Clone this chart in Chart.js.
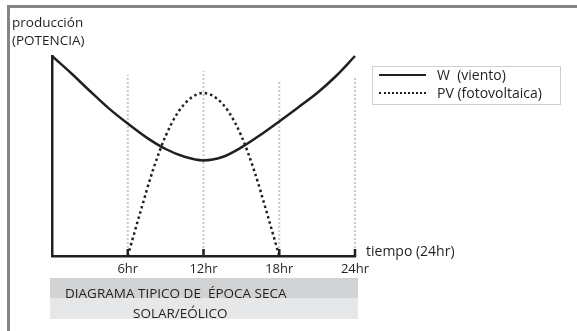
<!DOCTYPE html>
<html>
<head>
<meta charset="utf-8">
<script src="https://cdn.jsdelivr.net/npm/chart.js@4/dist/chart.umd.min.js"></script>
<style>
  html, body { margin: 0; padding: 0; background: #fff; }
  body { width: 577px; height: 331px; position: relative; overflow: hidden; font-family: "Open Sans", sans-serif; color: #231f20; }
  #frame { position: absolute; left: 7px; top: 5px; width: 620px; height: 400px; border-left: 3px solid #858585; border-top: 3px solid #858585; }
  #chart { position: absolute; left: 0; top: 0; }
  .txt { position: absolute; white-space: nowrap; font-size: 13px; line-height: 15px; }
  #legend { position: absolute; left: 372px; top: 66px; width: 187px; height: 37px; border: 1.5px solid #cfcfcf; }
  .lg-row { position: absolute; left: 6px; height: 16px; font-size: 14px; line-height: 16px; white-space: nowrap; }
  .lg-solid { display: inline-block; width: 47px; border-top: 2px solid #231f20; vertical-align: middle; margin-right: 11px; position: relative; top: -1px; }
  .lg-dot { display: inline-block; width: 47px; border-top: 2.5px dotted #231f20; vertical-align: middle; margin-right: 11px; position: relative; top: -1px; }
  #caption { position: absolute; left: 50px; top: 278px; width: 308px; height: 41px; }
  #cap1 { position: absolute; left: 0; top: 0; width: 100%; height: 20px; background: #d1d2d4; }
  #cap2 { position: absolute; left: 0; top: 20px; width: 100%; height: 21px; background: #e6e7e8; }
</style>
</head>
<body>
<div id="frame"></div>
<canvas id="chart" width="577" height="331"></canvas>

<div class="txt" style="left:12px; top:15px; font-size:13.5px;">producción</div>
<div class="txt" style="left:12px; top:33px; font-size:13.5px;">(POTENCIA)</div>
<div class="txt" style="left:366px; top:243px; font-size:14px; line-height:16px;">tiempo (24hr)</div>

<div id="legend">
  <div class="lg-row" style="top:0px;"><span class="lg-solid"></span>W&nbsp; (viento)</div>
  <div class="lg-row" style="top:18px;"><span class="lg-dot"></span>PV (fotovoltaica)</div>
</div>

<div id="caption">
  <div id="cap1"></div>
  <div id="cap2"></div>
  <div class="txt" style="left:15px; top:8px; font-size:13.5px;">DIAGRAMA TIPICO DE&nbsp; ÉPOCA SECA</div>
  <div class="txt" style="left:83px; top:28px; font-size:13.5px;">SOLAR/EÓLICO</div>
</div>

<script>
// hours of the day
const windHours  = [0, 1.5, 3, 4.5, 6, 7.5, 9, 10.5, 12, 13.5, 15, 16.5, 18, 19.5, 21, 22.5, 24];
const windValues = [100, 91.5, 82.5, 73.8, 66.2, 59.2, 53.5, 49.6, 47.8, 49.5, 54.3, 60.5, 67.3, 74.3, 81.5, 90, 100];

const pvHours  = [6, 7, 8, 9, 10, 11, 12, 13, 14, 15, 16, 17, 18];
const pvValues = [0, 22, 43, 60, 72, 79, 81.5, 79, 72, 60, 43, 22, 0];

const tickHours = [6, 12, 18, 24];
const gridTops  = [90.5, 92.5, 87, 89];

const INK = "#231f20";

const toPoints = (xs, ys) => xs.map((x, i) => ({ x, y: ys[i] }));

const axisMarks = {
  id: "axisMarks",
  beforeDatasetsDraw(chart){
    const { ctx, scales: { x, y } } = chart;
    ctx.save();
    ctx.strokeStyle = "#c9c9c9";
    ctx.lineWidth = 2;
    ctx.setLineDash([2, 2]);
    tickHours.forEach((h, i) => {
      const px = x.getPixelForValue(h);
      ctx.beginPath();
      ctx.moveTo(px, y.getPixelForValue(0));
      ctx.lineTo(px, y.getPixelForValue(gridTops[i]));
      ctx.stroke();
    });
    ctx.restore();
  },
  afterDraw(chart){
    const { ctx, scales: { x, y } } = chart;
    const base = y.getPixelForValue(0);
    ctx.save();
    ctx.strokeStyle = INK;
    ctx.lineWidth = 2.5;
    tickHours.forEach((h) => {
      const px = x.getPixelForValue(h);
      ctx.beginPath();
      ctx.moveTo(px, base + 1);
      ctx.lineTo(px, base - 7);
      ctx.stroke();
    });
    ctx.restore();
  }
};

new Chart(document.getElementById("chart"), {
  type: "line",
  data: {
    datasets: [
      {
        label: "W (viento)",
        data: toPoints(windHours, windValues),
        borderColor: INK,
        borderWidth: 2.5,
        pointRadius: 0,
        cubicInterpolationMode: "monotone",
        clip: 6
      },
      {
        label: "PV (fotovoltaica)",
        data: toPoints(pvHours, pvValues),
        borderColor: INK,
        borderWidth: 2.5,
        borderDash: [2.5, 3],
        pointRadius: 0,
        cubicInterpolationMode: "monotone",
        clip: 6
      }
    ]
  },
  plugins: [axisMarks],
  options: {
    responsive: false,
    animation: false,
    events: [],
    layout: { padding: { left: 52, right: 222, top: 56, bottom: 0 } },
    plugins: { legend: { display: false }, tooltip: { enabled: false } },
    scales: {
      x: {
        type: "linear",
        min: 0,
        max: 24,
        afterBuildTicks: (s) => { s.ticks = tickHours.map((v) => ({ value: v })); },
        afterFit: (s) => { s.height = 75; },
        grid: { display: false },
        border: { display: true, color: INK, width: 2.5 },
        ticks: {
          padding: -3,
          maxRotation: 0,
          autoSkip: false,
          color: INK,
          font: { family: "Open Sans", size: 13 },
          callback: (v) => v + "hr"
        }
      },
      y: {
        min: 0,
        max: 100,
        afterFit: (s) => { s.width = 0; },
        grid: { display: false },
        border: { display: true, color: INK, width: 2.5 },
        ticks: { display: false }
      }
    }
  }
});
</script>
</body>
</html>
